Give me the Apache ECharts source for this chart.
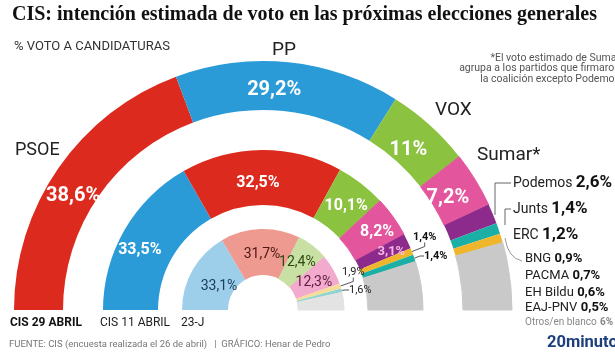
<!DOCTYPE html>
<html><head><meta charset="utf-8">
<script src="https://cdn.jsdelivr.net/npm/echarts@6/dist/echarts.min.js"></script>
<style>html,body{margin:0;padding:0;background:#fff}#c{width:615px;height:357px}</style>
</head><body><div id="c"></div>
<script>
// ---- data ----
const outerNames = ['PSOE','PP','VOX','Sumar*','Podemos','Junts','ERC','BNG','PACMA','EH Bildu','EAJ-PNV','Otros/en blanco'];
const outerValues = [38.6,29.2,11,7.2,2.6,1.4,1.2,0.9,0.7,0.6,0.5,6];
const middleNames = ['PP','PSOE','VOX','Sumar','Podemos','ERC','Junts','Otros'];
const middleValues = [33.5,32.5,10.1,8.2,3.1,1.4,1.4,9.8];
const innerNames = ['PP','PSOE','VOX','Sumar','ERC','Junts','Otros'];
const innerValues = [33.1,31.7,12.4,12.3,1.9,1.6,7.0];
const ringLabels = ['CIS 29 ABRIL','CIS 11 ABRIL','23-J'];
const sideNames = ['Podemos','Junts','ERC','BNG','PACMA','EH Bildu','EAJ-PNV','Otros/en blanco'];
const sideValues = [2.6,1.4,1.2,0.9,0.7,0.6,0.5,6];

const strong = {PSOE:'#dd2a1e',PP:'#2a9bd7',VOX:'#8bc23f','Sumar*':'#e3559c',Sumar:'#e3559c',Podemos:'#8d2b8c',Junts:'#1bafa5',ERC:'#efb62c'};
const light = {PSOE:'#ee9a90',PP:'#9dcfeb',VOX:'#c9e0a4',Sumar:'#f2abcd',ERC:'#f6dc98',Junts:'#8fd5cf'};
const fmt = v => String(v).replace('.', ',') + '%';
const C = ['263','310'];

// label nudges (pixels) to follow the reference's hand placement
const outerOffsets = [[-3,16],[-12,6],[-7,9],[-9,7]];
const middleOffsets = [[-6,8],[-4,8],[0,3],[4,1],[6,0]];
const innerOffsets = [[9,7],[1,5],[-3,1],[-2,3]];

function itemColor(c){ return {color:c, borderColor:c, borderWidth: c.startsWith('#c') || c.startsWith('#e3') ? 1 : 0}; }

function outerData(){
  return outerNames.map((n,i)=>{
    const d = {name:n, value:outerValues[i], itemStyle:itemColor(strong[n] || '#c9c9c9')};
    d.label = i < 4 ? {show:true, position:'inside', offset:outerOffsets[i], formatter: fmt(outerValues[i]), color:'#fff', fontSize:20, fontWeight:'bold'} : {show:false};
    return d;
  });
}
function middleData(){
  return middleNames.map((n,i)=>{
    const d = {name:n, value:middleValues[i], itemStyle:itemColor(strong[n] || '#c9c9c9')};
    if (i < 4) d.label = {show:true, position:'inside', offset:middleOffsets[i], formatter: fmt(middleValues[i]), color:'#fff', fontSize:16, fontWeight:'bold'};
    else if (i === 4) d.label = {show:true, position:'inside', offset:middleOffsets[i], formatter: fmt(middleValues[i]), color:'#f7b8e4', fontSize:13, fontWeight:'bold'};
    else if (n !== 'Otros') { d.label = {show:true, position:'outside', formatter: fmt(middleValues[i]), color:'#111', fontSize:11, fontWeight:'bold'}; d.labelLine = {show:true}; }
    else d.label = {show:false};
    return d;
  });
}
const innerText = {PP:'#1c3c60',PSOE:'#4d1713',VOX:'#2c4a12',Sumar:'#5e1c40'};
function innerData(){
  return innerNames.map((n,i)=>{
    const d = {name:n, value:innerValues[i], itemStyle:itemColor(light[n] || '#e3e3e3')};
    if (i < 4) d.label = {show:true, position:'inside', offset:innerOffsets[i], formatter: fmt(innerValues[i]), color: innerText[n], fontSize:14};
    else if (n !== 'Otros') { d.label = {show:true, position:'outside', formatter: fmt(innerValues[i]), color:'#222', fontSize:11}; d.labelLine = {show:true}; }
    else d.label = {show:false};
    return d;
  });
}
const pieBase = {type:'pie', center:C, startAngle:180, endAngle:0, clockwise:true, silent:true, animation:false,
  labelLine:{show:false, length:4, length2:4, lineStyle:{color:'#555', width:1}}, emphasis:{disabled:true}};

// where the small outside labels sit (text anchors)
const middleSmallPos = {5:[413,237], 6:[424,256]};
const innerSmallPos = {4:[342,272], 5:[349,290]};

const chart = echarts.init(document.getElementById('c'), null, {renderer:'canvas'});
const F = 'Roboto, "Noto Sans", sans-serif';

const graphics = [
  {type:'text', left:12, top:5, style:{text:'CIS: intención estimada de voto en las próximas elecciones generales', font:'bold 20px "Liberation Serif", "DejaVu Serif", serif', fill:'#111'}},
  {type:'text', left:14, top:40, style:{text:'% VOTO A CANDIDATURAS', font:'13px '+F, fill:'#333'}},
  {type:'text', x:620, y:53, style:{text:'*El voto estimado de Sumar\nagrupa a los partidos que firmaron\nla coalición excepto Podemos', font:'10.5px '+F, fill:'#555', align:'right', lineHeight:10.5}},
  {type:'text', x:15, y:141, style:{text:'PSOE', font:'18px '+F, fill:'#222'}},
  {type:'text', x:272, y:41, style:{text:'PP', font:'19px '+F, fill:'#222'}},
  {type:'text', x:435, y:101, style:{text:'VOX', font:'19px '+F, fill:'#222'}},
  {type:'text', x:477, y:146, style:{text:'Sumar*', font:'19px '+F, fill:'#222'}},
  {type:'text', x:10, y:317, style:{text:ringLabels[0], font:'bold 12px '+F, fill:'#111'}},
  {type:'text', x:100, y:317, style:{text:ringLabels[1], font:'12px '+F, fill:'#222'}},
  {type:'text', x:181, y:317, style:{text:ringLabels[2], font:'12px '+F, fill:'#222'}},
  {type:'text', x:9, y:340, style:{text:'FUENTE: CIS (encuesta realizada el 26 de abril)   |  GRÁFICO: Henar de Pedro', font:'9.5px "Liberation Sans Narrow", Roboto, sans-serif', fill:'#777'}},
  {type:'text', x:547, y:334, style:{text:'20minutos', font:'bold 16.5px '+F, fill:'#1d3f7e'}},
  {type:'polyline', shape:{points:[[511,183],[495,183],[495,215]]}, style:{stroke:'#666', lineWidth:1, fill:null}},
  {type:'polyline', shape:{points:[[511,209],[505,209],[505,225]]}, style:{stroke:'#666', lineWidth:1, fill:null}},
  {type:'bezierCurve', shape:{x1:505, y1:238, x2:522, y2:261, cpx1:508, cpy1:258}, style:{stroke:'#999', lineWidth:1, fill:null}}
];
const sideY = [183,209,235,259,276,293,308,322];
sideNames.forEach((n,i)=>{
  let big = i < 3, last = i === sideNames.length-1;
  let rich = big ? {a:{font:'14px '+F, fill:'#222'}, b:{font:'bold 17px '+F, fill:'#111'}}
    : last ? {a:{font:'10px '+F, fill:'#888'}, b:{font:'bold 10px '+F, fill:'#888'}}
    : {a:{font:'13px '+F, fill:'#222'}, b:{font:'bold 13px '+F, fill:'#111'}};
  graphics.push({type:'text', x: big ? 513 : 525, y: sideY[i], style:{text:'{a|'+n+'} {b|'+fmt(sideValues[i])+'}', rich:rich, verticalAlign:'middle', textVerticalAlign:'middle'}});
});

function smallLayout(pos){
  return function(p){
    const q = pos[p.dataIndex];
    if (!q) return {};
    return {x:q[0], y:q[1], align:'left', verticalAlign:'middle'};
  };
}

chart.setOption({
  animation:false,
  textStyle:{fontFamily:F},
  series:[
    Object.assign({}, pieBase, {name:'CIS 29 ABRIL', radius:[200,249], data:outerData()}),
    Object.assign({}, pieBase, {name:'CIS 11 ABRIL', radius:[105,160], data:middleData(), labelLayout:smallLayout(middleSmallPos)}),
    Object.assign({}, pieBase, {name:'23-J', radius:[35,81], data:innerData(), labelLayout:smallLayout(innerSmallPos)})
  ],
  graphic: graphics
});
</script></body></html>
